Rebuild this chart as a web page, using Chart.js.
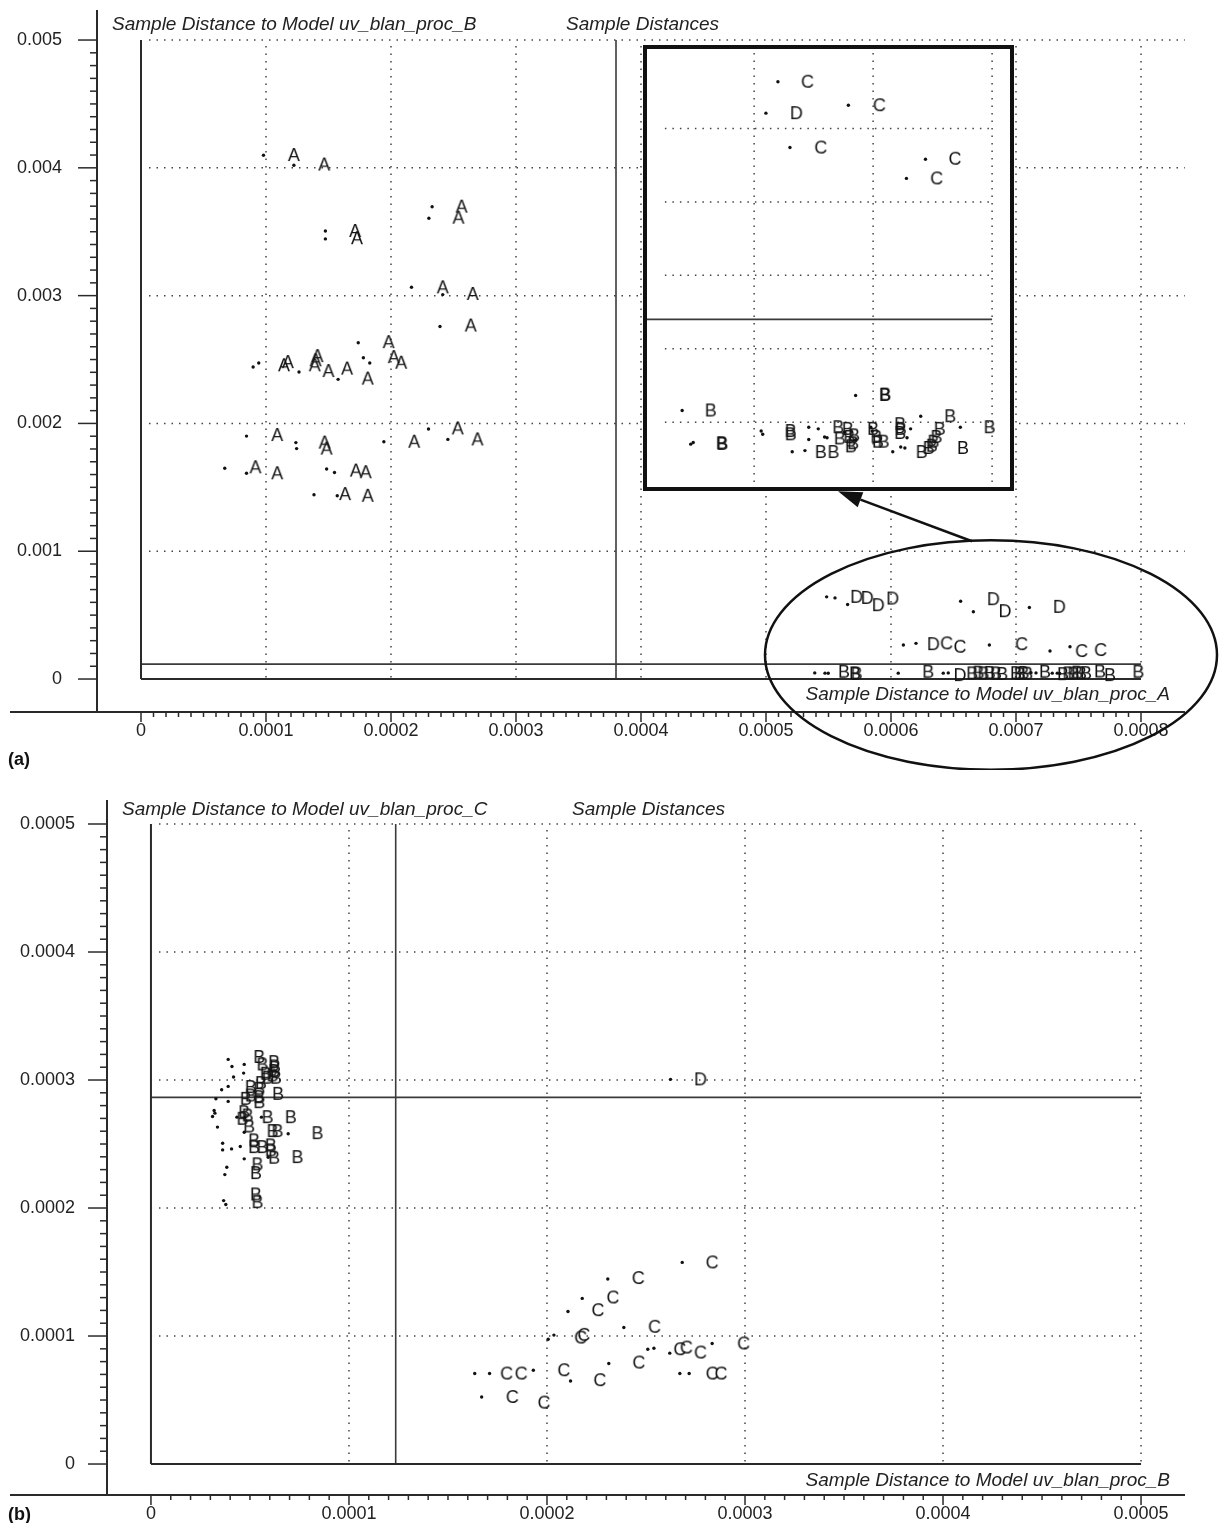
<!DOCTYPE html>
<html>
<head>
<meta charset="utf-8">
<script src="https://cdn.jsdelivr.net/npm/chart.js@4.4.1/dist/chart.umd.min.js"></script>
<style>
  html, body { margin: 0; padding: 0; background: #fff; }
  #wrap { position: relative; width: 1227px; height: 1523px; overflow: hidden; }
  canvas { position: absolute; left: 0; }
  #cA { top: 0; width: 1227px; height: 770px; }
  #cInset { left: 643px; top: 45px; width: 371px; height: 446px; }
  #cB { top: 770px; width: 1227px; height: 753px; }
</style>
</head>
<body>
<div id="wrap">
  <canvas id="cA" width="1227" height="770"></canvas>
  <canvas id="cInset" width="371" height="446"></canvas>
  <canvas id="cB" width="1227" height="753"></canvas>
</div>
<script>
// ---------- axes ----------
const aXTicks = [0, 0.0001, 0.0002, 0.0003, 0.0004, 0.0005, 0.0006, 0.0007, 0.0008];
const aXTickLabels = ['0', '0.0001', '0.0002', '0.0003', '0.0004', '0.0005', '0.0006', '0.0007', '0.0008'];
const aYTicks = [0, 0.001, 0.002, 0.003, 0.004, 0.005];
const aYTickLabels = ['0', '0.001', '0.002', '0.003', '0.004', '0.005'];
const aXLimit = 0.000380;   // critical distance, model A
const aYLimit = 0.000117;   // critical distance, model B

const bXTicks = [0, 0.0001, 0.0002, 0.0003, 0.0004, 0.0005];
const bXTickLabels = ['0', '0.0001', '0.0002', '0.0003', '0.0004', '0.0005'];
const bYTicks = [0, 0.0001, 0.0002, 0.0003, 0.0004, 0.0005];
const bYTickLabels = ['0', '0.0001', '0.0002', '0.0003', '0.0004', '0.0005'];
const bXLimit = 0.0001236;  // critical distance, model B
const bYLimit = 0.0002864;  // critical distance, model C

const insetXGrid = [0.0006, 0.0007, 0.0008];
const insetYGrid = [0.00005, 0.0001, 0.00015, 0.0002, 0.00025];
const insetYLimit = 0.00012;

// ---------- panel (a): distance to model A (x) vs model B (y) ----------
const aDots = [
  [0.0000980, 0.004099], [0.0001223, 0.004020],
  [0.0001475, 0.003506], [0.0001475, 0.003444],
  [0.0002329, 0.003696], [0.0002303, 0.003605],
  [0.0002164, 0.003065], [0.0002414, 0.003008], [0.0002392, 0.002758],
  [0.0001738, 0.002631], [0.0000897, 0.002442], [0.0000942, 0.002473],
  [0.0001264, 0.002403], [0.0001577, 0.002345], [0.0001779, 0.002514], [0.0001830, 0.002473],
  [0.0000844, 0.001901], [0.0001239, 0.001850], [0.0001245, 0.001803],
  [0.0001943, 0.001857], [0.0002300, 0.001956], [0.0002455, 0.001875],
  [0.0000670, 0.001649], [0.0000844, 0.001610], [0.0001485, 0.001644], [0.0001548, 0.001616],
  [0.0001384, 0.001442], [0.0001570, 0.001434],
  [0.0005485, 0.000643], [0.0005552, 0.000635], [0.0005653, 0.000583],
  [0.0006557, 0.000609], [0.0006659, 0.000526], [0.0007107, 0.000560],
  [0.0006099, 0.000266], [0.0006200, 0.000279], [0.0006787, 0.000266],
  [0.0007272, 0.000219], [0.0007432, 0.000253],
  [0.0005390, 0.000048], [0.0005472, 0.000046], [0.0005498, 0.000045],
  [0.0006058, 0.000046], [0.0006418, 0.000046], [0.0006458, 0.000048],
  [0.0007120, 0.000050], [0.0007160, 0.000048], [0.0007290, 0.000046],
  [0.0007330, 0.000046], [0.0007350, 0.000044]
];
const aClassA = [
  [0.0001223, 0.004100], [0.0001466, 0.004026],
  [0.0001713, 0.003506], [0.0001728, 0.003449],
  [0.0002565, 0.003696], [0.0002540, 0.003610],
  [0.0002414, 0.003065], [0.0002654, 0.003013], [0.0002638, 0.002766],
  [0.0001981, 0.002636],
  [0.0001144, 0.002455], [0.0001175, 0.002480],
  [0.0001397, 0.002494], [0.0001390, 0.002455], [0.0001412, 0.002527],
  [0.0001500, 0.002410], [0.0001649, 0.002429], [0.0001814, 0.002351],
  [0.0002022, 0.002519], [0.0002082, 0.002475],
  [0.0001090, 0.001909], [0.0001469, 0.001850], [0.0001485, 0.001803],
  [0.0002186, 0.001857], [0.0002534, 0.001961], [0.0002692, 0.001875],
  [0.0000916, 0.001657], [0.0001090, 0.001610],
  [0.0001719, 0.001631], [0.0001798, 0.001618],
  [0.0001633, 0.001447], [0.0001814, 0.001434]
];
const aClassB = [
  [0.0005624, 0.000057], [0.0005712, 0.000044], [0.0005725, 0.000041], [0.0006298, 0.000057],
  [0.0006650, 0.000044], [0.0006700, 0.000050], [0.0006740, 0.000044], [0.0006790, 0.000048],
  [0.0006840, 0.000044], [0.0006890, 0.000040], [0.0007000, 0.000046], [0.0007030, 0.000040],
  [0.0007060, 0.000048], [0.0007090, 0.000042], [0.0007232, 0.000057], [0.0007376, 0.000038],
  [0.0007420, 0.000044], [0.0007460, 0.000042], [0.0007490, 0.000050], [0.0007520, 0.000044],
  [0.0007560, 0.000046], [0.0007672, 0.000059], [0.0007752, 0.000031], [0.0007979, 0.000057]
];
const aClassC = [
  [0.0006445, 0.000279], [0.0006552, 0.000253], [0.0007045, 0.000273],
  [0.0007525, 0.000219], [0.0007677, 0.000227]
];
const aClassD = [
  [0.0005725, 0.000643], [0.0005810, 0.000635], [0.0005898, 0.000578], [0.0006013, 0.000630],
  [0.0006819, 0.000625], [0.0006912, 0.000531], [0.0007347, 0.000565],
  [0.0006339, 0.000273], [0.0006552, 0.000031]
];

// ---------- enlarged view of the low-distance group of panel (a) ----------
const insetDots = [
  [0.0006200, 0.0002818], [0.0006099, 0.0002604], [0.0006792, 0.0002658],
  [0.0006301, 0.0002370], [0.0007440, 0.0002290], [0.0007280, 0.0002160],
  [0.0005395, 0.0000580], [0.0005467, 0.0000351], [0.0005488, 0.0000362],
  [0.0006059, 0.0000440], [0.0006072, 0.0000418], [0.0006320, 0.0000299], [0.0006427, 0.0000307],
  [0.0006459, 0.0000466], [0.0006539, 0.0000455], [0.0006459, 0.0000383], [0.0006592, 0.0000400],
  [0.0006613, 0.0000394], [0.0006853, 0.0000682], [0.0006760, 0.0000433], [0.0006853, 0.0000379],
  [0.0006981, 0.0000466], [0.0006992, 0.0000440], [0.0007165, 0.0000299], [0.0007232, 0.0000331],
  [0.0007267, 0.0000325], [0.0007285, 0.0000394], [0.0007315, 0.0000455], [0.0007400, 0.0000541],
  [0.0007733, 0.0000466]
];
const insetClassB = [
  [0.0005635, 0.0000580], [0.0005733, 0.0000353], [0.0005728, 0.0000357],
  [0.0006307, 0.0000440], [0.0006307, 0.0000418],
  [0.0006560, 0.0000297], [0.0006667, 0.0000297],
  [0.0006707, 0.0000466], [0.0006787, 0.0000455], [0.0006800, 0.0000400], [0.0006720, 0.0000390],
  [0.0006840, 0.0000411], [0.0006832, 0.0000357], [0.0006813, 0.0000336],
  [0.0007000, 0.0000455], [0.0007027, 0.0000400], [0.0007040, 0.0000368], [0.0007088, 0.0000368],
  [0.0007227, 0.0000487], [0.0007232, 0.0000455], [0.0007227, 0.0000427],
  [0.0007099, 0.0000686], [0.0007103, 0.0000688],
  [0.0007408, 0.0000297], [0.0007467, 0.0000325], [0.0007493, 0.0000340], [0.0007507, 0.0000368],
  [0.0007533, 0.0000400], [0.0007560, 0.0000455], [0.0007648, 0.0000541],
  [0.0007755, 0.0000325], [0.0007979, 0.0000466]
];
const insetClassC = [
  [0.0006448, 0.0002818], [0.0007053, 0.0002658], [0.0006560, 0.0002370],
  [0.0007688, 0.0002294], [0.0007534, 0.0002160]
];
const insetClassD = [[0.0006355, 0.0002604]];

// ---------- panel (b): distance to model B (x) vs model C (y) ----------
const bDots = [
  [0.0000390, 0.0003161], [0.0000409, 0.0003106], [0.0000471, 0.0003122], [0.0000468, 0.0003054],
  [0.0000417, 0.0003023], [0.0000390, 0.0002950], [0.0000357, 0.0002924], [0.0000328, 0.0002854],
  [0.0000390, 0.0002833], [0.0000319, 0.0002762], [0.0000323, 0.0002741], [0.0000311, 0.0002715],
  [0.0000434, 0.0002710], [0.0000336, 0.0002632], [0.0000362, 0.0002506], [0.0000362, 0.0002454],
  [0.0000407, 0.0002462], [0.0000451, 0.0002480], [0.0000471, 0.0002384], [0.0000383, 0.0002319],
  [0.0000373, 0.0002261], [0.0000367, 0.0002058], [0.0000378, 0.0002027], [0.0000474, 0.0002705],
  [0.0000471, 0.0002592], [0.0000558, 0.0002710], [0.0000693, 0.0002580], [0.0000592, 0.0002397],
  [0.0002683, 0.0001575], [0.0002307, 0.0001445], [0.0002178, 0.0001294], [0.0002106, 0.0001192],
  [0.0002388, 0.0001067], [0.0002006, 0.0000975], [0.0002035, 0.0001007], [0.0002509, 0.0000897],
  [0.0002540, 0.0000905], [0.0002620, 0.0000866], [0.0002834, 0.0000942], [0.0001635, 0.0000707],
  [0.0001710, 0.0000707], [0.0001931, 0.0000733], [0.0001670, 0.0000524], [0.0002119, 0.0000649],
  [0.0002312, 0.0000785], [0.0002671, 0.0000707], [0.0002718, 0.0000707],
  [0.0002624, 0.0003005]
];
const bClassB = [
  [0.0000547, 0.0003180], [0.0000563, 0.0003122], [0.0000622, 0.0003140], [0.0000626, 0.0003106],
  [0.0000622, 0.0003070], [0.0000614, 0.0003036], [0.0000631, 0.0003018], [0.0000580, 0.0003049],
  [0.0000589, 0.0003018], [0.0000555, 0.0002976], [0.0000504, 0.0002945], [0.0000547, 0.0002932],
  [0.0000547, 0.0002866], [0.0000504, 0.0002879], [0.0000642, 0.0002892], [0.0000479, 0.0002853],
  [0.0000547, 0.0002827], [0.0000471, 0.0002749], [0.0000488, 0.0002723], [0.0000462, 0.0002697],
  [0.0000589, 0.0002710], [0.0000706, 0.0002710], [0.0000496, 0.0002637], [0.0000614, 0.0002601],
  [0.0000639, 0.0002601], [0.0000841, 0.0002585], [0.0000521, 0.0002528], [0.0000521, 0.0002476],
  [0.0000563, 0.0002476], [0.0000605, 0.0002489], [0.0000605, 0.0002450], [0.0000622, 0.0002393],
  [0.0000740, 0.0002398], [0.0000538, 0.0002341], [0.0000530, 0.0002273], [0.0000530, 0.0002106],
  [0.0000538, 0.0002046]
];
const bClassC = [
  [0.0002834, 0.0001575], [0.0002461, 0.0001453], [0.0002333, 0.0001301], [0.0002257, 0.0001202],
  [0.0002543, 0.0001072], [0.0002170, 0.0000988], [0.0002186, 0.0001009], [0.0002671, 0.0000897],
  [0.0002704, 0.0000910], [0.0002775, 0.0000871], [0.0002993, 0.0000942], [0.0001796, 0.0000707],
  [0.0001870, 0.0000707], [0.0001825, 0.0000524], [0.0001985, 0.0000480], [0.0002085, 0.0000733],
  [0.0002267, 0.0000655], [0.0002464, 0.0000793], [0.0002834, 0.0000707], [0.0002879, 0.0000707]
];
const bClassD = [[0.0002775, 0.0003005]];

// ---------- drawing helpers ----------
const FONT = '"Liberation Sans", Arial, Helvetica, sans-serif';
const INK = '#222';
const toXY = pts => pts.map(([x, y]) => ({ x, y }));

function letterSprite(ch) {
  const c = document.createElement('canvas');
  c.width = 18; c.height = 20;
  const g = c.getContext('2d');
  g.font = '18px ' + FONT;
  g.fillStyle = '#141414';
  g.textAlign = 'center';
  g.textBaseline = 'middle';
  g.fillText(ch, 9, 11);
  return c;
}
const sprites = { A: letterSprite('A'), B: letterSprite('B'), C: letterSprite('C'), D: letterSprite('D') };

const dotSet = pts => ({ data: toXY(pts), pointStyle: 'circle', pointRadius: 1.7,
  pointBackgroundColor: '#111', pointBorderWidth: 0, showLine: false });
const letterSet = (pts, ch) => ({ data: toXY(pts), pointStyle: sprites[ch], pointRadius: 9, showLine: false });

function line(ctx, x1, y1, x2, y2, color, width, dash) {
  ctx.save();
  ctx.strokeStyle = color; ctx.lineWidth = width;
  ctx.setLineDash(dash || []);
  ctx.beginPath(); ctx.moveTo(x1, y1); ctx.lineTo(x2, y2); ctx.stroke();
  ctx.restore();
}
const DOTS = [1.5, 6];
function text(ctx, s, x, y, align, font, color) {
  ctx.save();
  ctx.font = font; ctx.fillStyle = color || INK;
  ctx.textAlign = align; ctx.textBaseline = 'middle';
  ctx.fillText(s, x, y);
  ctx.restore();
}

// scatter panel with detached axes, dotted grid, frame and limit lines
function panel(canvas, p) {
  const deco = {
    id: 'deco',
    beforeDatasetsDraw(chart) {
      const { ctx } = chart; const X = chart.scales.x, Y = chart.scales.y;
      const xs = v => X.getPixelForValue(v), ys = v => Y.getPixelForValue(v);
      const xTop = p.xTicks[p.xTicks.length - 1], yTop = p.yTicks[p.yTicks.length - 1];
      p.yTicks.slice(1).forEach(v => line(ctx, xs(0) + 8, ys(v), xs(p.hGridEnd), ys(v), '#444', 1.5, DOTS));
      p.xTicks.slice(1).forEach(v => line(ctx, xs(v), ys(yTop) + 6, xs(v), ys(0), '#444', 1.5, DOTS));
      // limits
      line(ctx, xs(p.xLimit), ys(yTop), xs(p.xLimit), ys(0), '#3a3a3a', 1.6);
      line(ctx, xs(0), ys(p.yLimit), xs(xTop), ys(p.yLimit), '#3a3a3a', 1.6);
      // frame
      line(ctx, xs(0), ys(yTop), xs(0), ys(0), '#2a2a2a', 2);
      line(ctx, xs(0), ys(0), xs(xTop), ys(0), '#2a2a2a', 2);
    },
    afterDraw(chart) {
      const { ctx, chartArea } = chart; const X = chart.scales.x, Y = chart.scales.y;
      const xs = v => X.getPixelForValue(v), ys = v => Y.getPixelForValue(v);
      const L = chartArea.left, B = chartArea.bottom;
      // axis lines
      line(ctx, L, chartArea.top, L, B, '#2a2a2a', 2);
      line(ctx, 10, B, chartArea.right, B, '#2a2a2a', 2);
      // ticks
      const xStep = p.xTicks[1], yStep = p.yTicks[1];
      const nx = (p.xTicks.length - 1) * 10, ny = (p.yTicks.length - 1) * 10;
      for (let i = 0; i <= nx; i++) {
        const x = xs(i * xStep / 10);
        line(ctx, x, B, x, B + (i % 10 === 0 ? 10 : 5), '#2a2a2a', 1.5);
      }
      for (let i = 0; i <= ny; i++) {
        const y = ys(i * yStep / 10);
        line(ctx, L, y, L - (i % 10 === 0 ? 19 : 7), y, '#2a2a2a', 1.5);
      }
      // titles
      const it = 'italic 19px ' + FONT;
      text(ctx, p.yTitle, p.yTitlePos[0], p.yTitlePos[1], 'left', it);
      text(ctx, 'Sample Distances', p.titlePos[0], p.titlePos[1], 'left', it);
      text(ctx, p.xTitle, p.xTitlePos[0], p.xTitlePos[1], 'right', it);
      text(ctx, p.tag, 8, p.tagY, 'left', 'bold 18px ' + FONT, '#111');
      if (p.extra) p.extra(chart, xs, ys);
    }
  };
  const noPad = s => { s.paddingTop = 0; s.paddingBottom = 0; s.paddingLeft = 0; s.paddingRight = 0; };
  return new Chart(canvas, {
    type: 'scatter',
    data: { datasets: p.datasets },
    plugins: [deco],
    options: {
      responsive: false, animation: false, events: [],
      layout: { padding: { top: p.padTop, right: p.padRight, left: 0, bottom: 0 } },
      plugins: { legend: { display: false }, tooltip: { enabled: false } },
      scales: {
        x: {
          type: 'linear', position: 'bottom', min: p.xMin, max: p.xMax,
          grid: { display: false, drawTicks: false }, border: { display: false },
          afterBuildTicks: s => { s.ticks = p.xTicks.map(v => ({ value: v })); },
          afterFit: s => { s.height = p.xAxisHeight; noPad(s); },
          ticks: { autoSkip: false, maxRotation: 0, padding: 8, color: INK,
            font: { family: FONT, size: 18 }, callback: (v, i) => p.xLabels[i] }
        },
        y: {
          type: 'linear', position: 'left', min: p.yMin, max: p.yMax,
          grid: { display: false, drawTicks: false }, border: { display: false },
          afterBuildTicks: s => { s.ticks = p.yTicks.map(v => ({ value: v })); },
          afterFit: s => { s.width = p.yAxisWidth; noPad(s); },
          ticks: { autoSkip: false, padding: p.yPad, color: INK,
            font: { family: FONT, size: 18 }, callback: (v, i) => p.yLabels[i] }
        }
      }
    }
  });
}

// ellipse around the low-distance group and the arrow pointing to the enlargement
function callout(chart, xs, ys) {
  const { ctx } = chart;
  const cx = xs(0.000680), cy = ys(0.0001875);
  const rx = xs(0.000680 + 0.0001808) - cx, ry = cy - ys(0.0001875 + 0.000898);
  ctx.save();
  ctx.strokeStyle = '#111'; ctx.lineWidth = 2.5;
  ctx.beginPath(); ctx.ellipse(cx, cy, rx, ry, 0, 0, Math.PI * 2); ctx.stroke();
  const tx = xs(0.0005576), ty = ys(0.001469);   // head
  const sx = xs(0.0006648), sy = ys(0.001078);   // tail
  const ang = Math.atan2(ty - sy, tx - sx);
  const hl = 24, hw = 8;
  const bx = tx - hl * Math.cos(ang), by = ty - hl * Math.sin(ang);
  ctx.lineWidth = 2.5;
  ctx.beginPath(); ctx.moveTo(sx, sy); ctx.lineTo(bx, by); ctx.stroke();
  ctx.fillStyle = '#111';
  ctx.beginPath();
  ctx.moveTo(tx, ty);
  ctx.lineTo(bx + hw * Math.sin(ang), by - hw * Math.cos(ang));
  ctx.lineTo(bx - hw * Math.sin(ang), by + hw * Math.cos(ang));
  ctx.closePath(); ctx.fill();
  ctx.restore();
}

// ---------- panel (a) ----------
panel(document.getElementById('cA'), {
  datasets: [dotSet(aDots), letterSet(aClassA, 'A'), letterSet(aClassB, 'B'),
             letterSet(aClassC, 'C'), letterSet(aClassD, 'D')],
  xMin: -0.0000352, xMax: 0.0008352, yMin: -0.000258, yMax: 0.005235,
  xTicks: aXTicks, xLabels: aXTickLabels, yTicks: aYTicks, yLabels: aYTickLabels,
  xLimit: aXLimit, yLimit: aYLimit, hGridEnd: 0.000835,
  padTop: 10, padRight: 42, yAxisWidth: 97, xAxisHeight: 58, yPad: 35,
  yTitle: 'Sample Distance to Model uv_blan_proc_B', yTitlePos: [112, 25],
  titlePos: [566, 25],
  xTitle: 'Sample Distance to Model uv_blan_proc_A', xTitlePos: [1170, 695],
  tag: '(a)', tagY: 760, extra: callout
});

// ---------- enlargement ----------
const insetDeco = {
  id: 'insetDeco',
  beforeDraw(chart) {
    const { ctx } = chart;
    ctx.save(); ctx.fillStyle = '#fff'; ctx.fillRect(0, 0, chart.width, chart.height); ctx.restore();
  },
  beforeDatasetsDraw(chart) {
    const { ctx } = chart; const X = chart.scales.x, Y = chart.scales.y;
    const xs = v => X.getPixelForValue(v), ys = v => Y.getPixelForValue(v);
    insetYGrid.forEach(v => line(ctx, xs(0.000525), ys(v), xs(0.0008), ys(v), '#444', 1.5, DOTS));
    insetXGrid.forEach(v => line(ctx, xs(v), 8, xs(v), chart.height - 4, '#444', 1.5, DOTS));
    line(ctx, 2, ys(insetYLimit), xs(0.0008), ys(insetYLimit), '#3a3a3a', 1.6);
  },
  afterDraw(chart) {
    const { ctx } = chart;
    ctx.save(); ctx.strokeStyle = '#111'; ctx.lineWidth = 4;
    ctx.strokeRect(2, 2, chart.width - 4, chart.height - 4); ctx.restore();
  }
};
new Chart(document.getElementById('cInset'), {
  type: 'scatter',
  data: { datasets: [dotSet(insetDots), letterSet(insetClassB, 'B'),
                     letterSet(insetClassC, 'C'), letterSet(insetClassD, 'D')] },
  plugins: [insetDeco],
  options: {
    responsive: false, animation: false, events: [],
    layout: { padding: 0 },
    plugins: { legend: { display: false }, tooltip: { enabled: false } },
    scales: {
      x: { type: 'linear', min: 0.000515, max: 0.00081, display: false },
      y: { type: 'linear', min: 0.00001, max: 0.0003, display: false }
    }
  }
});

// ---------- panel (b) ----------
panel(document.getElementById('cB'), {
  datasets: [dotSet(bDots), letterSet(bClassB, 'B'), letterSet(bClassC, 'C'), letterSet(bClassD, 'D')],
  xMin: -0.0000222, xMax: 0.0005222, yMin: -0.0000242, yMax: 0.00051875,
  xTicks: bXTicks, xLabels: bXTickLabels, yTicks: bYTicks, yLabels: bYTickLabels,
  xLimit: bXLimit, yLimit: bYLimit, hGridEnd: 0.0005,
  padTop: 30, padRight: 42, yAxisWidth: 107, xAxisHeight: 28, yPad: 32,
  yTitle: 'Sample Distance to Model uv_blan_proc_C', yTitlePos: [122, 40],
  titlePos: [572, 40],
  xTitle: 'Sample Distance to Model uv_blan_proc_B', xTitlePos: [1170, 711],
  tag: '(b)', tagY: 745
});
</script>
</body>
</html>
